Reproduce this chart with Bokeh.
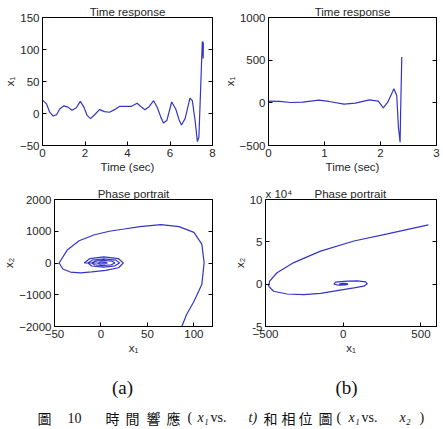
from bokeh.plotting import figure
from bokeh.models import Range1d, FixedTicker, LinearAxis, CustomJSTickFormatter, ColumnDataSource
from bokeh.layouts import column, row
from bokeh.embed import file_html
from bokeh.resources import INLINE
from bokeh.core.properties import value

# ---------------- data ----------------
# (a) time response x1(t)
ta = [0, 0.19, 0.34, 0.5, 0.66, 0.81, 1.01, 1.2, 1.39, 1.59, 1.78, 1.95, 2.1, 2.26,
      2.45, 2.68, 2.92, 3.15, 3.39, 3.62, 3.93, 4.17, 4.45, 4.63, 4.82, 5.0, 5.23,
      5.41, 5.57, 5.69, 5.85, 6.08, 6.27, 6.43, 6.54, 6.71, 6.94, 7.05, 7.18, 7.29,
      7.36, 7.44, 7.52, 7.54, 7.55, 7.56, 7.57]
x1a = [21, 15, 2, -4, -2, 7, 12, 10, 5, 9, 19, 10, -3, -8,
       -2, 6, 3, 2, 6, 11, 11, 11, 16, 11, 6, 10, 20,
       9, -6, -15, -11, 18, 7, -10, -18, -8, 24, 20, -11, -44,
       -37, 37, 112, 90, 113, 86, 110]

# (b) time response x1(t)
tb = [0, 0.2, 0.4, 0.61, 0.9, 1.08, 1.35, 1.55, 1.8, 1.96, 2.05, 2.13, 2.24,
      2.29, 2.32, 2.35, 2.36, 2.38]
x1b = [20, 16, 4, 8, 31, 16, -16, -4, 35, 20, -59, 8, 165,
       86, -286, -462, -90, 537]

# (a) phase portrait x1 vs x2
pa_x1 = [-3, 0, 5, 7, 4, -1, -4,
         -10, -6, 3, 12, 15, 11, 2, -7, -10,
         -14, -9, 3, 16, 20, 15, 3, -10, -14,
         -18, -12, 3, 19, 24,
         19, 5, -10, -22, -33, -41, -45,
         -36, -23.5, -7, 9, 25, 42, 64.5, 84, 100, 108.5, 111,
         108.5, 100, 92, 87, 85]
pa_x2 = [0, 30, 20, 0, -25, -30, 0,
         0, 60, 80, 55, 0, -55, -80, -55, 0,
         0, 95, 130, 90, 0, -90, -130, -95, 0,
         0, 140, 190, 135, 0,
         -150, -230, -280, -310, -285, -190, 0,
         420, 700, 890, 1000, 1070, 1145, 1210, 1145, 965, 595, 10,
         -680, -1210, -1630, -2000, -2300]

# (b) phase portrait x1 vs x2
pb_x1 = [20, 10, -10, -25, -20, 0, 25, 30, 10, -20, -40, -50, -60,
         -49, 26, 90, 144, 155, 150,
         133, 69, -39, -146, -254, -361, -448, -480,
         -473, -426, -318, -146, 69, 284, 548]
pb_x2 = [0, -500, -700, -200, 400, 900, 600, -200, -1000, -1100, -800, -400, 0,
         2400, 3600, 4000, 2800, 400, -200,
         -2400, -4400, -7600, -10800, -12400, -11600, -8400, -2400,
         3600, 13500, 25500, 39000, 51000, 59400, 70000]

# axes ticks
ticks_ta = [0, 2, 4, 6, 8]
ticks_x1a = [-50, 0, 50, 100, 150]
ticks_tb = [0, 1, 2, 3]
ticks_x1b = [-500, 0, 500, 1000]
ticks_pa_x1 = [-50, 0, 50, 100]
ticks_pa_x2 = [-2000, -1000, 0, 1000, 2000]
ticks_pb_x1 = [-500, 0, 500]
ticks_pb_x2 = [-50000, 0, 50000, 100000]
labels_pb_x2 = {-50000: "-5", 0: "0", 50000: "5", 100000: "10"}

# caption pieces
panel_labels = ["(a)", "(b)"]
caption_text = ["圖", "10", "時", "間", "響", "應", "(", "x₁", "vs.", "t)",
                "和", "相", "位", "圖", "(", "x₁", "vs.", "x₂", ")"]

LINE = "#3434c6"
FONT = "Liberation Sans"
FS = "11.5px"
TXT = "#262626"
NB = "\u00a0"


def make_fig(w, h, left, right, top, bottom, xr, yr, xt, yt, title, xlabel, ylabel):
    p = figure(width=w, height=h, x_range=Range1d(*xr), y_range=Range1d(*yr),
               output_backend="svg", toolbar_location=None,
               min_border_left=left, min_border_right=right,
               min_border_top=top, min_border_bottom=bottom, title=title)
    p.title.text_font = FONT
    p.title.text_font_size = FS
    p.title.text_font_style = "normal"
    p.title.text_color = TXT
    p.title.align = "center"
    p.title.standoff = 0
    p.title.offset = 0
    p.xgrid.visible = False
    p.ygrid.visible = False
    p.outline_line_color = "black"
    p.outline_line_alpha = 1
    p.outline_line_width = 1
    p.background_fill_color = "white"
    p.border_fill_color = "white"
    for ax, ticks, lab in ((p.xaxis[0], xt, xlabel), (p.yaxis[0], yt, ylabel)):
        ax.ticker = FixedTicker(ticks=ticks)
        ax.major_tick_in = 4
        ax.major_tick_out = 0
        ax.minor_tick_line_color = None
        ax.axis_line_color = "black"
        ax.major_label_text_font = FONT
        ax.major_label_text_font_size = FS
        ax.major_label_text_color = TXT
        ax.major_label_standoff = 3
        ax.axis_label = lab
        ax.axis_label_text_font = FONT
        ax.axis_label_text_font_size = FS
        ax.axis_label_text_font_style = "normal"
        ax.axis_label_text_color = TXT
        ax.axis_label_standoff = 1
    # mirror ticks on the right edge (no labels)
    ra = LinearAxis(ticker=FixedTicker(ticks=yt), major_tick_in=4, major_tick_out=0,
                    minor_tick_line_color=None, major_label_standoff=0,
                    formatter=CustomJSTickFormatter(code="return ''"),
                    major_label_text_font_size="1px")
    p.add_layout(ra, "right")
    return p


tl = make_fig(220, 185, 41, 8, 17, 40, (0, 8), (-50, 150), ticks_ta, ticks_x1a,
              "Time response", "Time (sec)", "x₁")
tl.line(ta, x1a, line_color=LINE, line_width=1.2)

tr = make_fig(223, 185, 45, 7, 17, 40, (0, 3), (-500, 1000), ticks_tb, ticks_x1b,
              "Time response", "Time (sec)", "x₁")
tr.line(tb, x1b, line_color=LINE, line_width=1.2)

bl = make_fig(220, 185, 41, 8, 14, 44, (-50, 120), (-2000, 2000), ticks_pa_x1, ticks_pa_x2,
              "Phase portrait", "x₁", "x₂")
bl.line(pa_x1, pa_x2, line_color=LINE, line_width=1.2)

br = make_fig(223, 185, 45, 7, 14, 44, (-500, 600), (-50000, 100000), ticks_pb_x1, ticks_pb_x2,
              "x 10⁴" + NB * 7 + "Phase portrait", "x₁", "x₂")
br.title.align = "left"
br.yaxis[0].major_label_overrides = labels_pb_x2
br.line(pb_x1, pb_x2, line_color=LINE, line_width=1.2)

# caption area
cap = figure(width=443, height=59, x_range=Range1d(0, 443), y_range=Range1d(59, 0),
             output_backend="svg", toolbar_location=None, min_border=0)
cap.axis.visible = False
cap.grid.visible = False
cap.outline_line_color = None
cap.text(x=[122, 346], y=[17, 17], text=panel_labels, text_font=value("Liberation Serif"),
         text_font_size="19px", text_align="center", text_baseline="middle", text_color="#111111")

cap_x = [37, 67, 105, 125, 146, 166, 187, 197, 210, 248, 263, 281, 298, 318, 336, 348, 361, 399, 419]
cjk = set("圖時間響應和相位")
cap_fonts = ["Noto Sans CJK TC" if (t[0] in cjk) else "Liberation Serif" for t in caption_text]
cap_styles = ["italic" if t[0] in "xt" else "normal" for t in caption_text]
cap_src = ColumnDataSource(dict(x=cap_x, y=[47] * len(cap_x), text=caption_text,
                                font=cap_fonts, style=cap_styles))
cap.text(x="x", y="y", text="text", source=cap_src, text_font="font", text_font_style="style",
         text_font_size="14px", text_align="left", text_baseline="middle", text_color="#111111")

layout = column(row(tl, tr), row(bl, br), cap)
open("out.html", "w").write(file_html(layout, INLINE))
